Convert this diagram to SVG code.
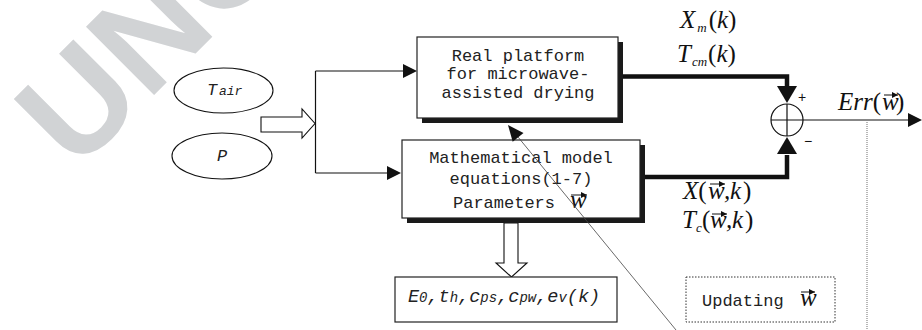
<svg xmlns="http://www.w3.org/2000/svg" width="922" height="330" viewBox="0 0 922 330">
<style>
.mono{font-family:"Liberation Mono","Courier New",monospace;font-size:17px;fill:#222}
.mi{font-family:"Liberation Mono","Courier New",monospace;font-style:italic;fill:#222}
.math{font-family:"Liberation Serif","Times New Roman",serif;font-style:italic;font-size:25px;fill:#111}
.up{font-family:"Liberation Serif","Times New Roman",serif;font-style:normal}
.thin{stroke:#111;stroke-width:1.2;fill:none}
.thick{stroke:#111;stroke-width:4.5;fill:none}
.box{fill:#fff;stroke:#222;stroke-width:1.2}
.shadow{fill:#1a1a1a}
.head{fill:#111}
.vec{stroke:#111;stroke-width:1;fill:none}
</style>
<defs>
<marker id="vh" viewBox="0 0 6 6" refX="6" refY="3" markerWidth="6" markerHeight="6" markerUnits="userSpaceOnUse" orient="auto"><path d="M0,0 L6,3 L0,6 Z" fill="#111"/></marker>
</defs>
<rect width="922" height="330" fill="#fff"/>
<text x="76" y="173" transform="rotate(-45 76 173)" font-family="Liberation Sans, Arial, sans-serif" font-weight="bold" font-size="140" fill="#d1d3d5">UNC</text>

<g id="connectors">
<polygon points="261,117 302,117 302,109 315,123.5 302,138 302,132 261,132" fill="#fff" stroke="#111" stroke-width="1.1"/>
<path class="thin" d="M315.5,71 V173"/>
<path class="thin" d="M315.5,71 H404"/>
<polygon class="head" points="417,71 403,64 403,78"/>
<path class="thin" d="M315.5,173 H388"/>
<polygon class="head" points="401,173 387,166 387,180"/>
<path class="thick" d="M618,76.5 H787 V88"/>
<polygon class="head" points="777,86 797,86 787,103"/>
<path class="thick" d="M640,177 H787 V155"/>
<polygon class="head" points="777,154 797,154 787,137"/>
<path class="thin" d="M803,120 H910"/>
<polygon class="head" points="922,120 908,113 908,127"/>
<path d="M867,120 V330" stroke="#888" stroke-width="1.2" stroke-dasharray="1,1" fill="none"/>
<polygon points="504,223 518,223 518,263 527,263 511.5,277 496,263 504,263" fill="#fff" stroke="#111" stroke-width="1.1"/>
</g>

<g id="sum">
<circle cx="787" cy="120" r="16" fill="#fff" stroke="#111" stroke-width="1.2"/>
<path class="thin" d="M787,104 V136 M771,120 H803"/>
<text x="798" y="102" font-family="Liberation Sans, Arial, sans-serif" font-size="14" fill="#111">+</text>
<text x="804" y="146" font-family="Liberation Sans, Arial, sans-serif" font-size="14" fill="#111">−</text>
</g>

<g id="tair">
<ellipse cx="223.5" cy="90.5" rx="49.5" ry="22.5" fill="#fff" stroke="#111" stroke-width="1.1"/>
<text class="mi" y="95"><tspan x="207" font-size="17">T</tspan><tspan x="219" font-size="13">air</tspan></text>
</g>

<g id="p">
<ellipse cx="222" cy="156" rx="50" ry="23" fill="#fff" stroke="#111" stroke-width="1.1"/>
<text class="mi" x="217" y="161" font-size="17">P</text>
</g>

<g id="real">
<rect class="shadow" x="422" y="42" width="201" height="81"/>
<rect class="box" x="417" y="37" width="201" height="81"/>
<text class="mono" text-anchor="middle"><tspan x="518" y="61">Real platform</tspan><tspan x="518" y="79">for microwave-</tspan><tspan x="518" y="98">assisted drying</tspan></text>
</g>

<g id="model">
<rect class="shadow" x="407" y="145" width="238" height="78"/>
<rect class="box" x="402" y="140" width="238" height="78"/>
<text class="mono" text-anchor="middle"><tspan x="521" y="163">Mathematical model</tspan><tspan x="521" y="184">equations(1-7)</tspan></text>
<text class="mono" x="453" y="208">Parameters</text>
<text class="math" x="570" y="208" font-size="23">w</text>
<path class="vec" d="M571,195 H587" marker-end="url(#vh)"/>
</g>

<g id="params">
<rect class="box" x="395" y="277" width="222" height="45"/>
<text class="mi" y="302"><tspan x="408" font-size="18.5">E</tspan><tspan font-size="14">0</tspan><tspan font-size="18.5">,t</tspan><tspan font-size="14">h</tspan><tspan font-size="18.5">,c</tspan><tspan font-size="14">ps</tspan><tspan font-size="18.5">,c</tspan><tspan font-size="14">pw</tspan><tspan font-size="18.5">,e</tspan><tspan font-size="14">v</tspan><tspan font-size="18.5">(k)</tspan></text>
</g>

<g id="updating">
<rect x="686" y="277" width="149" height="45" fill="#fff" stroke="#333" stroke-width="1" stroke-dasharray="1.5,1.5"/>
<text class="mono" x="702" y="306">Updating</text>
<text class="math" x="800" y="306" font-size="23">w</text>
<path class="vec" d="M801,292 H815" marker-end="url(#vh)"/>
</g>

<g id="updateLink">
<path d="M518,137 L676,330" stroke="#444" stroke-width="0.8" fill="none"/>
<polygon class="head" points="508,125 523.5,133 512.7,141.8"/>
</g>

<g id="labels">
<text class="math" y="28"><tspan x="680">X</tspan><tspan dx="2" dy="4" font-size="13">m</tspan><tspan dx="2" dy="-4" class="up">(</tspan><tspan>k</tspan><tspan class="up">)</tspan></text>
<text class="math" y="62"><tspan x="677">T</tspan><tspan dx="1" dy="4" font-size="13">cm</tspan><tspan dx="1" dy="-4" class="up">(</tspan><tspan>k</tspan><tspan class="up">)</tspan></text>
<text class="math" y="199"><tspan x="683">X</tspan><tspan class="up">(</tspan><tspan x="708">w</tspan><tspan x="724">,</tspan><tspan x="730">k</tspan><tspan x="743" class="up">)</tspan></text>
<path class="vec" d="M710,184 H725" marker-end="url(#vh)"/>
<text class="math" y="228"><tspan x="682">T</tspan><tspan dy="4" font-size="13">c</tspan><tspan x="702" dy="-4" class="up">(</tspan><tspan x="710">w</tspan><tspan x="726">,</tspan><tspan x="732">k</tspan><tspan x="745" class="up">)</tspan></text>
<path class="vec" d="M712,214 H727" marker-end="url(#vh)"/>
<text class="math" y="110"><tspan x="838">Err</tspan><tspan class="up">(</tspan><tspan x="882">w</tspan><tspan x="896" class="up">)</tspan></text>
<path class="vec" d="M884,95 H898" marker-end="url(#vh)"/>
</g>
</svg>
